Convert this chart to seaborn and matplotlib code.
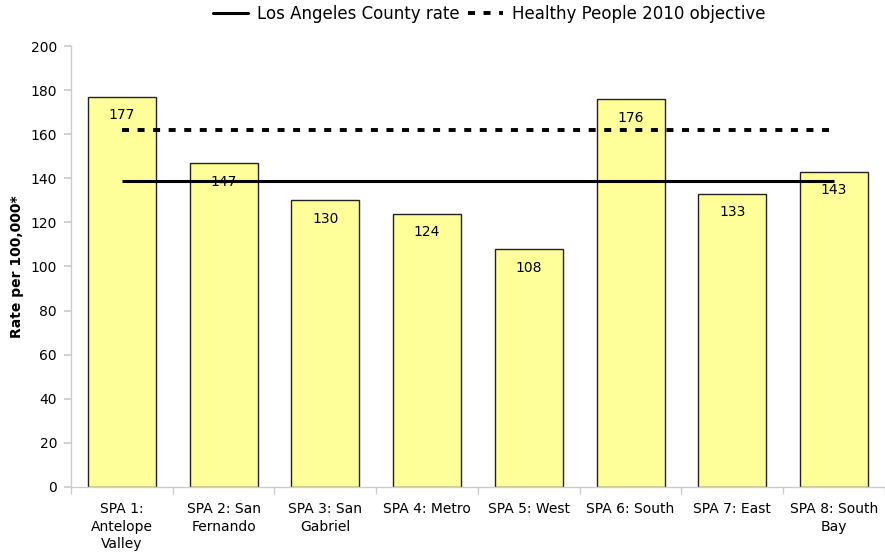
import matplotlib
matplotlib.use("Agg")
import matplotlib.pyplot as plt
import seaborn as sns
import pandas as pd
from matplotlib.lines import Line2D

categories = ["SPA 1:\nAntelope\nValley", "SPA 2: San\nFernando", "SPA 3: San\nGabriel",
              "SPA 4: Metro", "SPA 5: West", "SPA 6: South", "SPA 7: East", "SPA 8: South\nBay"]
rates = [177, 147, 130, 124, 108, 176, 133, 143]
county_rate = 139
hp2010_objective = 162
yticks = [0, 20, 40, 60, 80, 100, 120, 140, 160, 180, 200]

sns.set_theme(style="white")
plt.rcParams['font.family'] = ['DejaVu Sans']
plt.rcParams['text.color'] = 'black'
plt.rcParams['xtick.color'] = 'black'
plt.rcParams['ytick.color'] = 'black'
plt.rcParams['axes.labelcolor'] = 'black'

df = pd.DataFrame({"SPA": categories, "Rate": rates})

fig = plt.figure(figsize=(8.85, 5.53), dpi=100)
ax = fig.add_axes([0.0802, 0.1194, 0.9198, 0.7974])

sns.barplot(data=df, x="SPA", y="Rate", color="#FFFF99", saturation=1,
            edgecolor="#222222", linewidth=1.0, width=0.67, ax=ax)

dash = (0, (1.8, 2.2))
n = len(categories)
ax.plot([0, n - 1], [county_rate, county_rate], color="black", lw=2.2, solid_capstyle="butt")
ax.plot([0, n - 1], [hp2010_objective, hp2010_objective], color="black", lw=2.8,
        linestyle=dash, dash_capstyle="butt")

for i, v in enumerate(rates):
    ax.text(i, v - 8.5, str(v), ha="center", va="center", fontsize=10, color="black")

ax.set_xlim(-0.5, n - 0.5)
ax.set_ylim(0, 200)
ax.set_yticks(yticks)
ax.set_xticks(range(n))
ax.set_xticklabels(categories, fontsize=10, linespacing=1.3)
ax.set_xticks([i + 0.5 for i in range(-1, n)], minor=True)
ax.tick_params(axis="x", which="major", length=0, pad=11)
ax.tick_params(axis="x", which="minor", length=5, color="#cccccc", direction="out", bottom=True)
ax.tick_params(axis="y", length=5, color="#cccccc", labelcolor="black", direction="out",
               left=True, labelsize=10, pad=5)
ax.set_xlabel("")
ax.set_ylabel("Rate per 100,000*", fontsize=10, fontweight="bold", labelpad=5)

for s in ["top", "right"]:
    ax.spines[s].set_visible(False)
for s in ["left", "bottom"]:
    ax.spines[s].set_color("#cccccc")
    ax.spines[s].set_linewidth(1)

handles = [Line2D([], [], color="black", lw=2.2),
           Line2D([], [], color="black", lw=2.8, linestyle=dash, dash_capstyle="butt")]
fig.legend(handles, ["Los Angeles County rate", "Healthy People 2010 objective"],
           loc="center", bbox_to_anchor=(0.553, 0.975), ncol=2, frameon=False,
           fontsize=12, handlelength=2.1, columnspacing=0.5, handletextpad=0.55)

fig.savefig("out.png", dpi=100)
